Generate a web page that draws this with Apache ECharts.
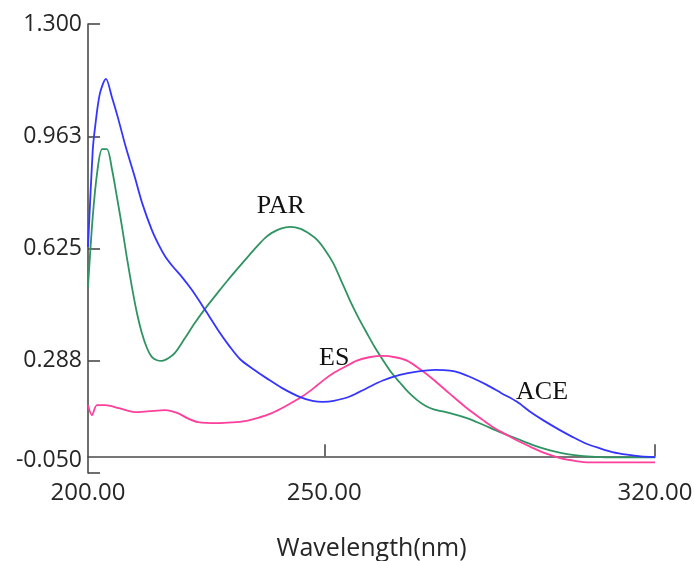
<!DOCTYPE html>
<html>
<head>
<meta charset="utf-8">
<script src="https://cdn.jsdelivr.net/npm/echarts@6/dist/echarts.min.js"></script>
<style>
html,body{margin:0;padding:0;background:#fff;}
#chart{width:694px;height:561px;}
</style>
</head>
<body>
<div id="chart"></div>
<script>
// Wavelength (nm), absorbance pairs
const aceData = [[200,0.630],[201,0.92],[201.5,0.99],[202.5,1.09],[203.8,1.135],[205.1,1.078],[206.3,1.02],[208,0.93],[209.9,0.84],[211.5,0.76],[213.5,0.681],[215,0.635],[216.3,0.602],[218,0.570],[219.9,0.539],[222,0.50],[224.8,0.44],[227.5,0.38],[230,0.33],[232.2,0.292],[235,0.262],[238,0.233],[241,0.206],[244.9,0.178],[247.5,0.167],[249.7,0.164],[252,0.167],[255.4,0.180],[259,0.205],[262.4,0.228],[266,0.245],[269.6,0.255],[273.5,0.260],[276.6,0.258],[278.7,0.251],[281.5,0.235],[284.4,0.215],[287.5,0.19],[290.8,0.164],[293.5,0.135],[296.3,0.109],[299.5,0.082],[302.6,0.058],[305.5,0.038],[308.4,0.024],[311,0.013],[314.1,0.005],[317,0.0],[320,-0.002]];
const parData = [[200,0.509],[201,0.72],[202,0.86],[203,0.924],[204,0.924],[205.1,0.861],[206,0.79],[207.2,0.690],[208.2,0.60],[209.3,0.509],[210.3,0.435],[211.4,0.371],[212.5,0.325],[213.5,0.299],[214.6,0.289],[215.7,0.287],[217,0.295],[218.4,0.311],[220.5,0.355],[222.6,0.401],[225,0.448],[227.5,0.493],[229.5,0.528],[231.7,0.565],[234,0.603],[236,0.635],[237.5,0.657],[238.9,0.672],[240.8,0.685],[242.8,0.690],[245,0.684],[247,0.668],[248.5,0.651],[250.2,0.62],[251.9,0.581],[253.6,0.528],[255.4,0.470],[257.2,0.418],[259,0.371],[260.7,0.328],[262.4,0.290],[264.2,0.252],[266,0.222],[267.8,0.193],[269.6,0.170],[271.3,0.153],[273,0.142],[276.6,0.130],[280.2,0.115],[283.6,0.095],[287.2,0.073],[290.8,0.053],[294.2,0.034],[297.8,0.018],[301.4,0.007],[304.8,0.001],[308.4,-0.002],[314,-0.003],[320,-0.003]];
const esData = [[200,0.154],[200.85,0.124],[201.9,0.154],[203.6,0.154],[206.5,0.145],[209.9,0.133],[213,0.136],[216.3,0.139],[219,0.130],[221,0.115],[223.3,0.103],[227.5,0.100],[230.5,0.102],[233.2,0.106],[236,0.116],[238.9,0.130],[241.7,0.150],[244.9,0.176],[247.3,0.200],[250.2,0.233],[251.9,0.250],[254.5,0.270],[256.9,0.288],[259.5,0.298],[262.4,0.302],[265,0.298],[267.5,0.288],[270.3,0.262],[273,0.232],[276.6,0.188],[280,0.147],[283.6,0.109],[286,0.085],[288.7,0.064],[291.5,0.043],[294.2,0.025],[297,0.008],[299.9,-0.005],[302.5,-0.012],[304.8,-0.017],[310,-0.018],[320,-0.018]];

const xTickValues = [200, 250, 320];
const yTickValues = [-0.05, 0.2875, 0.625, 0.9625, 1.3];
const yTickLabels = ['-0.050', '0.288', '0.625', '0.963', '1.300'];
const xAxisName = 'Wavelength(nm)';

const labelNames = ['PAR', 'ES', 'ACE'];
const labelX = [240.8, 252.1, 296.1];
const labelY = [0.753, 0.296, 0.194];

const axisColor = '#4a4a4a';
const textColor = '#262626';
const uiFont = '"Open Sans", "Noto Sans", sans-serif';
const serifFont = '"Liberation Serif", "DejaVu Serif", serif';

function annot(i) {
  return {
    symbol: 'circle', symbolSize: 0, silent: true,
    data: [{ coord: [labelX[i], labelY[i]], value: labelNames[i] }],
    label: { show: true, position: 'inside', formatter: labelNames[i],
      fontFamily: serifFont, fontSize: 26, color: '#111' }
  };
}

const chart = echarts.init(document.getElementById('chart'), null, { renderer: 'canvas' });
chart.setOption({
  animation: false,
  backgroundColor: '#ffffff',
  grid: { left: 88, right: 39, top: 24, bottom: 88, containLabel: false, outerBoundsMode: 'none' },
  xAxis: {
    type: 'value', min: 200, max: 320,
    name: xAxisName, nameLocation: 'middle', nameGap: 63,
    nameTextStyle: { fontFamily: uiFont, fontSize: 25, color: textColor },
    axisLine: { show: true, lineStyle: { color: axisColor, width: 1.6 } },
    axisTick: { show: true, inside: true, length: 12, customValues: [250, 320], lineStyle: { color: axisColor, width: 1.6 } },
    axisLabel: { customValues: xTickValues, margin: 8, fontFamily: uiFont, fontSize: 24, color: textColor,
      formatter: v => Number(v).toFixed(2) },
    splitLine: { show: false }
  },
  yAxis: {
    type: 'value', min: -0.05, max: 1.3,
    axisLine: { show: true, lineStyle: { color: axisColor, width: 1.6 } },
    axisTick: { show: true, inside: true, length: 12, customValues: yTickValues, lineStyle: { color: axisColor, width: 1.6 } },
    axisLabel: { customValues: yTickValues, margin: 6, fontFamily: uiFont, fontSize: 23, color: textColor,
      formatter: function (v) {
        let best = 0;
        for (let i = 1; i < yTickValues.length; i++) {
          if (Math.abs(yTickValues[i] - v) < Math.abs(yTickValues[best] - v)) best = i;
        }
        return best === 0 ? '{low|' + yTickLabels[0] + '}' : yTickLabels[best];
      },
      rich: { low: { fontFamily: uiFont, fontSize: 23, color: textColor, padding: [0, 0, 26, 0] } }
    },
    splitLine: { show: false }
  },
  series: [
    { name: 'PAR', type: 'line', data: parData, showSymbol: false, smooth: 0.3,
      lineStyle: { color: '#2f9462', width: 1.8 }, markPoint: annot(0) },
    { name: 'ES', type: 'line', data: esData, showSymbol: false, smooth: 0.3,
      lineStyle: { color: '#ff3f9c', width: 1.8 }, markPoint: annot(1) },
    { name: 'ACE', type: 'line', data: aceData, showSymbol: false, smooth: 0.3,
      lineStyle: { color: '#3535ff', width: 1.8 }, markPoint: annot(2) }
  ]
});
</script>
</body>
</html>
